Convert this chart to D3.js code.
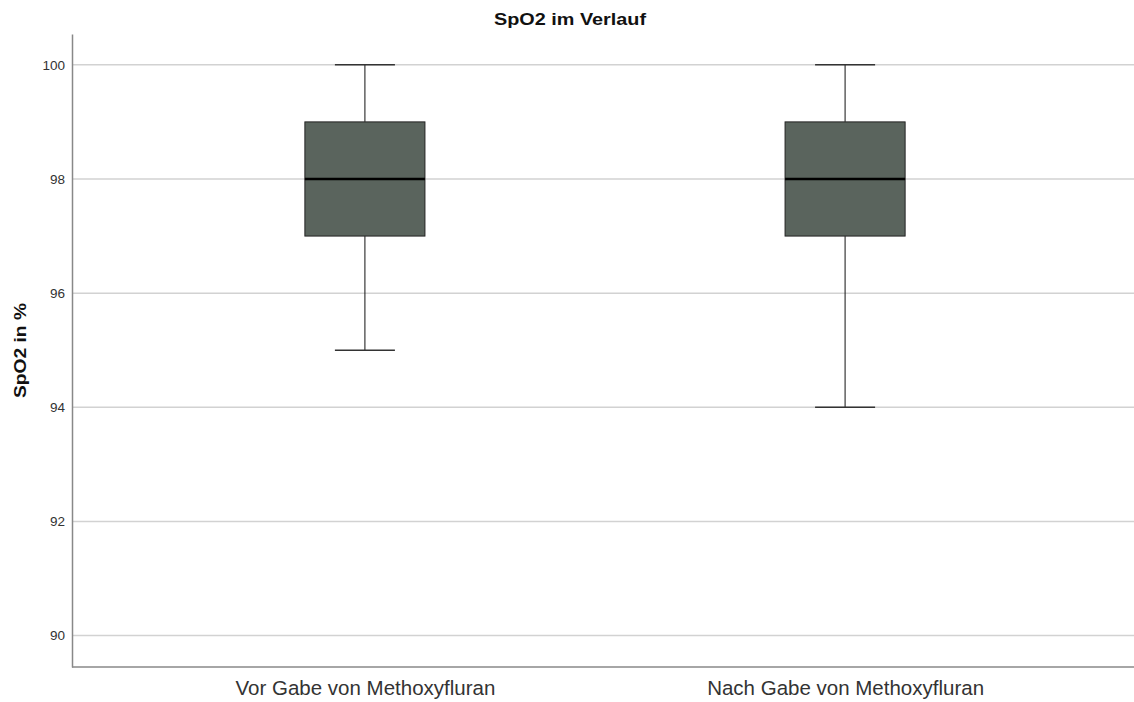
<!DOCTYPE html>
<html>
<head>
<meta charset="utf-8">
<script src="https://cdn.jsdelivr.net/npm/d3@7"></script>
<style>
  body { margin: 0; background: #fff; }
  svg { font-family: "Liberation Sans", Arial, sans-serif; }
</style>
</head>
<body>
<svg id="chart"></svg>
<script>
const categories = ['Vor Gabe von Methoxyfluran', 'Nach Gabe von Methoxyfluran']
const mins = [95, 94]
const q1s = [97, 97]
const medians = [98, 98]
const q3s = [99, 99]
const maxs = [100, 100]
const yTicks = [90, 92, 94, 96, 98, 100]

let width = 1134,
	height = 702,
	plotLeft = 72,
	plotTop = 34,
	plotBottom = 667

let svg = d3.select('svg#chart')
	.attr('width', width)
	.attr('height', height)

let x = d3.scalePoint()
	.domain(categories)
	.range([plotLeft, 1138])
	.padding(0.61)

let y = d3.scaleLinear()
	.domain([89.45, 100.54])
	.range([plotBottom, plotTop])

let boxW = x.step() * 0.25

// gridlines
svg.append('g')
	.selectAll('line')
	.data(yTicks)
	.join('line')
	.attr('x1', plotLeft)
	.attr('x2', width)
	.attr('y1', d => y(d))
	.attr('y2', d => y(d))
	.attr('stroke', '#d2d2d2')
	.attr('stroke-width', 1.5)

// y axis
let yAxis = svg.append('g')
	.attr('transform', `translate(${plotLeft},0)`)
	.call(d3.axisLeft(y).tickValues(yTicks).tickSize(0).tickPadding(7))
yAxis.select('.domain').attr('stroke', '#888').attr('stroke-width', 1.5)
yAxis.selectAll('text').attr('font-size', 13.5).attr('fill', '#333')
	.attr('font-family', '"Liberation Sans", Arial, sans-serif')

// x axis
let xAxis = svg.append('g')
	.attr('transform', `translate(0,${plotBottom})`)
	.call(d3.axisBottom(x).tickSize(0).tickPadding(13))
xAxis.select('.domain').attr('stroke', '#888').attr('stroke-width', 1.5)
	.attr('d', `M${plotLeft},0H${width}`)
xAxis.selectAll('text').attr('font-size', 20.5).attr('fill', '#333')
	.attr('font-family', '"Liberation Sans", Arial, sans-serif')

let boxes = svg.append('g')
	.selectAll('g')
	.data(categories.map((c, i) => ({c, min: mins[i], q1: q1s[i], med: medians[i], q3: q3s[i], max: maxs[i]})))
	.join('g')

// whiskers
boxes.append('line')
	.attr('x1', d => x(d.c)).attr('x2', d => x(d.c))
	.attr('y1', d => y(d.max)).attr('y2', d => y(d.q3))
	.attr('stroke', '#111').attr('stroke-width', 1)
boxes.append('line')
	.attr('x1', d => x(d.c)).attr('x2', d => x(d.c))
	.attr('y1', d => y(d.q1)).attr('y2', d => y(d.min))
	.attr('stroke', '#111').attr('stroke-width', 1)
boxes.selectAll('line.cap')
	.data(d => [{c: d.c, v: d.min}, {c: d.c, v: d.max}])
	.join('line')
	.classed('cap', true)
	.attr('x1', d => x(d.c) - boxW / 4).attr('x2', d => x(d.c) + boxW / 4)
	.attr('y1', d => y(d.v)).attr('y2', d => y(d.v))
	.attr('stroke', '#333').attr('stroke-width', 1.5)

// box
boxes.append('rect')
	.attr('x', d => x(d.c) - boxW / 2)
	.attr('width', boxW)
	.attr('y', d => y(d.q3))
	.attr('height', d => y(d.q1) - y(d.q3))
	.attr('fill', '#5a645d')
	.attr('stroke', '#222')
	.attr('stroke-width', 1)

// median
boxes.append('line')
	.attr('x1', d => x(d.c) - boxW / 2).attr('x2', d => x(d.c) + boxW / 2)
	.attr('y1', d => y(d.med)).attr('y2', d => y(d.med))
	.attr('stroke', '#000').attr('stroke-width', 2.5)

// title
svg.append('text')
	.attr('x', 570).attr('y', 25)
	.attr('text-anchor', 'middle')
	.attr('font-size', 17).attr('font-weight', 'bold')
	.attr('fill', '#111')
	.attr('textLength', 152)
	.attr('lengthAdjust', 'spacingAndGlyphs')
	.text('SpO2 im Verlauf')

// y label
svg.append('text')
	.attr('transform', `translate(25.5,${(plotTop + plotBottom) / 2}) rotate(-90)`)
	.attr('text-anchor', 'middle')
	.attr('font-size', 17).attr('font-weight', 'bold')
	.attr('fill', '#111')
	.attr('textLength', 95)
	.attr('lengthAdjust', 'spacingAndGlyphs')
	.text('SpO2 in %')
</script>
</body>
</html>
